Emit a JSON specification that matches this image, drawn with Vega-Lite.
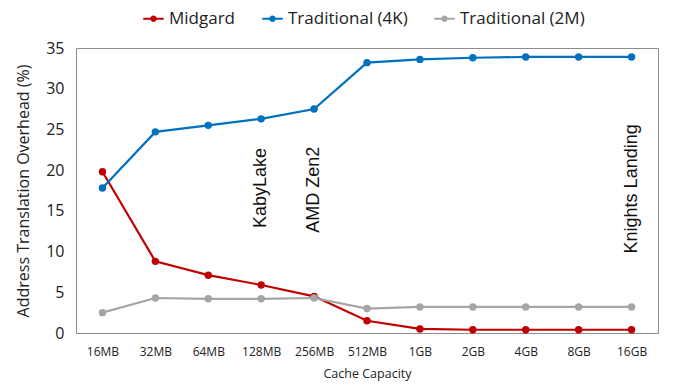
{
  "$schema": "https://vega.github.io/schema/vega-lite/v6.json",
  "width": 582,
  "height": 285,
  "autosize": "none",
  "padding": {"left": 76, "top": 48, "right": 28, "bottom": 57},
  "background": "white",
  "config": {
    "view": {"stroke": "#8c8c8c", "strokeWidth": 1},
    "font": "Open Sans",
    "axis": {"grid": false, "domain": false, "ticks": false, "labelColor": "#222", "titleColor": "#222", "titleFontWeight": "normal"}
  },
  "datasets": {
    "series": [
      {"cap": "16MB", "series": "Midgard", "v": 19.8},
      {"cap": "32MB", "series": "Midgard", "v": 8.8},
      {"cap": "64MB", "series": "Midgard", "v": 7.1},
      {"cap": "128MB", "series": "Midgard", "v": 5.9},
      {"cap": "256MB", "series": "Midgard", "v": 4.5},
      {"cap": "512MB", "series": "Midgard", "v": 1.5},
      {"cap": "1GB", "series": "Midgard", "v": 0.5},
      {"cap": "2GB", "series": "Midgard", "v": 0.4},
      {"cap": "4GB", "series": "Midgard", "v": 0.4},
      {"cap": "8GB", "series": "Midgard", "v": 0.4},
      {"cap": "16GB", "series": "Midgard", "v": 0.4},
      {"cap": "16MB", "series": "Traditional (4K)", "v": 17.8},
      {"cap": "32MB", "series": "Traditional (4K)", "v": 24.7},
      {"cap": "64MB", "series": "Traditional (4K)", "v": 25.5},
      {"cap": "128MB", "series": "Traditional (4K)", "v": 26.3},
      {"cap": "256MB", "series": "Traditional (4K)", "v": 27.5},
      {"cap": "512MB", "series": "Traditional (4K)", "v": 33.2},
      {"cap": "1GB", "series": "Traditional (4K)", "v": 33.6},
      {"cap": "2GB", "series": "Traditional (4K)", "v": 33.8},
      {"cap": "4GB", "series": "Traditional (4K)", "v": 33.9},
      {"cap": "8GB", "series": "Traditional (4K)", "v": 33.9},
      {"cap": "16GB", "series": "Traditional (4K)", "v": 33.9},
      {"cap": "16MB", "series": "Traditional (2M)", "v": 2.5},
      {"cap": "32MB", "series": "Traditional (2M)", "v": 4.3},
      {"cap": "64MB", "series": "Traditional (2M)", "v": 4.2},
      {"cap": "128MB", "series": "Traditional (2M)", "v": 4.2},
      {"cap": "256MB", "series": "Traditional (2M)", "v": 4.3},
      {"cap": "512MB", "series": "Traditional (2M)", "v": 3.0},
      {"cap": "1GB", "series": "Traditional (2M)", "v": 3.2},
      {"cap": "2GB", "series": "Traditional (2M)", "v": 3.2},
      {"cap": "4GB", "series": "Traditional (2M)", "v": 3.2},
      {"cap": "8GB", "series": "Traditional (2M)", "v": 3.2},
      {"cap": "16GB", "series": "Traditional (2M)", "v": 3.2}
    ],
    "notes": [
      {"cap": "128MB", "v": 17.8, "label": "KabyLake"},
      {"cap": "256MB", "v": 17.6, "label": "AMD Zen2"},
      {"cap": "16GB", "v": 17.7, "label": "Knights Landing"}
    ]
  },
  "layer": [
    {
      "data": {"name": "series"},
      "mark": {"type": "line", "strokeWidth": 2.2, "point": {"filled": true, "size": 55}},
      "encoding": {
        "x": {
          "field": "cap", "type": "ordinal",
          "sort": ["16MB","32MB","64MB","128MB","256MB","512MB","1GB","2GB","4GB","8GB","16GB"],
          "scale": {"type": "point", "padding": 0.5},
          "axis": {"title": "Cache Capacity", "labelAngle": 0, "labelFontSize": 12, "labelPadding": 13, "titleFontSize": 12.5, "titlePadding": 10}
        },
        "y": {
          "field": "v", "type": "quantitative",
          "scale": {"domain": [0, 35], "nice": false},
          "axis": {"title": "Address Translation Overhead (%)", "values": [0,5,10,15,20,25,30,35], "labelFontSize": 16, "labelPadding": 12, "titleFontSize": 16, "titlePadding": 14}
        },
        "color": {
          "field": "series", "type": "nominal",
          "sort": ["Midgard", "Traditional (4K)", "Traditional (2M)"],
          "scale": {"domain": ["Midgard", "Traditional (4K)", "Traditional (2M)"], "range": ["#C00000", "#0070C0", "#A5A5A5"]},
          "legend": {
            "title": null, "orient": "none", "direction": "horizontal", "legendX": 66, "legendY": -41,
            "labelFontSize": 17, "labelColor": "#222", "symbolSize": 420, "symbolStrokeWidth": 2,
            "symbolType": "M-1,0L1,0M-0.22,0A0.22,0.22 0 1,1 0.22,0A0.22,0.22 0 1,1 -0.22,0",
            "columnPadding": 22, "labelOffset": 4
          }
        }
      }
    },
    {
      "data": {"name": "notes"},
      "mark": {"type": "text", "angle": 270, "font": "Liberation Sans", "fontSize": 18, "color": "#111", "align": "center", "baseline": "middle"},
      "encoding": {
        "x": {"field": "cap", "type": "ordinal", "sort": ["16MB","32MB","64MB","128MB","256MB","512MB","1GB","2GB","4GB","8GB","16GB"]},
        "y": {"field": "v", "type": "quantitative"},
        "text": {"field": "label"}
      }
    }
  ]
}
